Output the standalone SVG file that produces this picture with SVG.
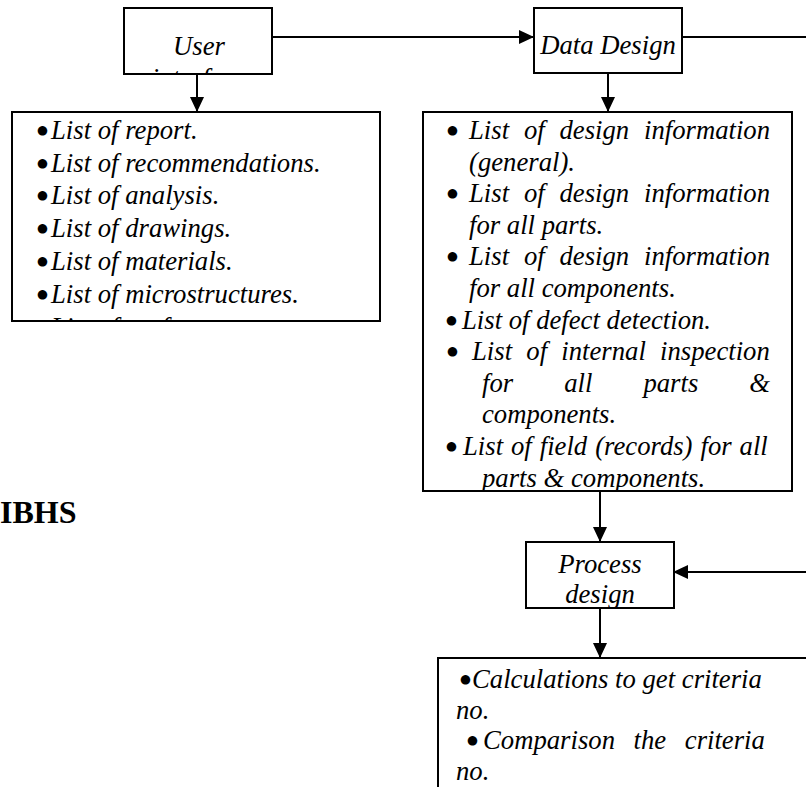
<svg xmlns="http://www.w3.org/2000/svg" width="806" height="787" viewBox="0 0 806 787">
<style>
  .box { fill: #fff; stroke: #000; stroke-width: 2; }
  .t { font-family: "Liberation Serif", "Times New Roman", serif; font-style: italic; font-size: 26.7px; fill: #000; }
  .c { text-anchor: middle; }
  .b { font-family: "DejaVu Sans", sans-serif; font-style: normal; font-size: 12.5px; }
  .conn { stroke: #000; stroke-width: 2; fill: none; marker-end: url(#arr); }
  .plain { stroke: #000; stroke-width: 2; fill: none; }
  .title { font-family: "Liberation Serif", "Times New Roman", serif; font-weight: bold; font-size: 32px; fill: #000; }
</style>
<defs>
  <marker id="arr" markerUnits="userSpaceOnUse" markerWidth="16" markerHeight="14" refX="15" refY="7" orient="auto">
    <path d="M0,0 L15,7 L0,14 Z" fill="#000"/>
  </marker>
  <clipPath id="cUser"><rect x="125" y="9" width="146" height="64"/></clipPath>
  <clipPath id="cLeft"><rect x="13" y="113" width="366" height="207"/></clipPath>
  <clipPath id="cData"><rect x="424" y="113" width="367" height="377"/></clipPath>
  <clipPath id="cProc"><rect x="527" y="543" width="146" height="64"/></clipPath>
  <clipPath id="cBot"><rect x="439" y="659" width="370" height="130"/></clipPath>
</defs>
<rect width="806" height="787" fill="#fff"/>

<g id="connectors">
  <line class="conn" x1="272" y1="37" x2="534" y2="37"/>
  <line class="plain" x1="682" y1="37" x2="806" y2="37"/>
  <line class="conn" x1="197" y1="74" x2="197" y2="112"/>
  <line class="conn" x1="608" y1="73" x2="608" y2="112"/>
  <line class="conn" x1="600" y1="491" x2="600" y2="542"/>
  <line class="conn" x1="806" y1="572" x2="673" y2="572"/>
  <line class="conn" x1="600" y1="608" x2="600" y2="658"/>
</g>

<g id="user-interface">
  <rect class="box" x="124" y="8" width="148" height="66"/>
  <g clip-path="url(#cUser)">
    <text class="t c" x="199" y="55">User</text>
    <text class="t c" x="199" y="87">interface</text>
  </g>
</g>

<g id="data-design">
  <rect class="box" x="534" y="8" width="148" height="65"/>
  <text class="t c" x="608" y="54">Data Design</text>
</g>

<g id="user-list">
  <rect class="box" x="12" y="112" width="368" height="209"/>
  <g clip-path="url(#cLeft)">
    <text class="t" y="139"><tspan class="b" x="37" dy="-5">●</tspan><tspan x="51" dy="5">List of report.</tspan></text>
    <text class="t" y="172"><tspan class="b" x="37" dy="-5">●</tspan><tspan x="51" dy="5">List of recommendations.</tspan></text>
    <text class="t" y="204"><tspan class="b" x="37" dy="-5">●</tspan><tspan x="51" dy="5">List of analysis.</tspan></text>
    <text class="t" y="237"><tspan class="b" x="37" dy="-5">●</tspan><tspan x="51" dy="5">List of drawings.</tspan></text>
    <text class="t" y="270"><tspan class="b" x="37" dy="-5">●</tspan><tspan x="51" dy="5">List of materials.</tspan></text>
    <text class="t" y="303"><tspan class="b" x="37" dy="-5">●</tspan><tspan x="51" dy="5">List of microstructures.</tspan></text>
    <text class="t" y="336"><tspan class="b" x="37" dy="-5">●</tspan><tspan x="51" dy="5">List of professors.</tspan></text>
  </g>
</g>

<g id="data-list">
  <rect class="box" x="423" y="112" width="369" height="379"/>
  <g clip-path="url(#cData)">
    <text class="t" y="139"><tspan class="b" x="447" dy="-5">●</tspan><tspan x="469" dy="5">List</tspan><tspan x="524">of</tspan><tspan x="559.5">design</tspan><tspan x="644">information</tspan></text>
    <text class="t" x="469" y="170.6">(general).</text>
    <text class="t" y="202.2"><tspan class="b" x="447" dy="-5">●</tspan><tspan x="469" dy="5">List</tspan><tspan x="524">of</tspan><tspan x="559.5">design</tspan><tspan x="644">information</tspan></text>
    <text class="t" x="469" y="233.8">for all parts.</text>
    <text class="t" y="265.4"><tspan class="b" x="447" dy="-5">●</tspan><tspan x="469" dy="5">List</tspan><tspan x="524">of</tspan><tspan x="559.5">design</tspan><tspan x="644">information</tspan></text>
    <text class="t" x="469" y="297">for all components.</text>
    <text class="t" y="328.6"><tspan class="b" x="446" dy="-5">●</tspan><tspan x="462" dy="5">List of defect detection.</tspan></text>
    <text class="t" y="360.2"><tspan class="b" x="447" dy="-5">●</tspan><tspan x="472" dy="5">List</tspan><tspan x="526.3">of</tspan><tspan x="561.3">internal</tspan><tspan x="660.1">inspection</tspan></text>
    <text class="t" y="391.8"><tspan x="482">for</tspan><tspan x="564.2">all</tspan><tspan x="643.4">parts</tspan><tspan x="749.3">&amp;</tspan></text>
    <text class="t" x="482" y="423.4">components.</text>
    <text class="t" y="455" word-spacing="1.3"><tspan class="b" x="446" dy="-5">●</tspan><tspan x="463" dy="5">List of field (records) for all</tspan></text>
    <text class="t" x="482" y="486.6">parts &amp; components.</text>
  </g>
</g>

<g id="process-design">
  <rect class="box" x="526" y="542" width="148" height="66"/>
  <g clip-path="url(#cProc)">
    <text class="t c" x="600" y="573">Process</text>
    <text class="t c" x="600" y="603">design</text>
  </g>
</g>

<g id="process-list">
  <rect class="box" x="438" y="658" width="372" height="140"/>
  <g clip-path="url(#cBot)">
    <text class="t" y="688"><tspan class="b" x="460" dy="-5">●</tspan><tspan x="472" dy="5">Calculations to get criteria</tspan></text>
    <text class="t" x="456" y="718.5">no.</text>
    <text class="t" y="749"><tspan class="b" x="467" dy="-5">●</tspan><tspan x="483" dy="5">Comparison</tspan><tspan x="633.6">the</tspan><tspan x="684.8">criteria</tspan></text>
    <text class="t" x="456" y="779.5">no.</text>
  </g>
</g>

<g id="ibhs-label">
  <text class="title" x="0" y="523">IBHS</text>
</g>
</svg>
